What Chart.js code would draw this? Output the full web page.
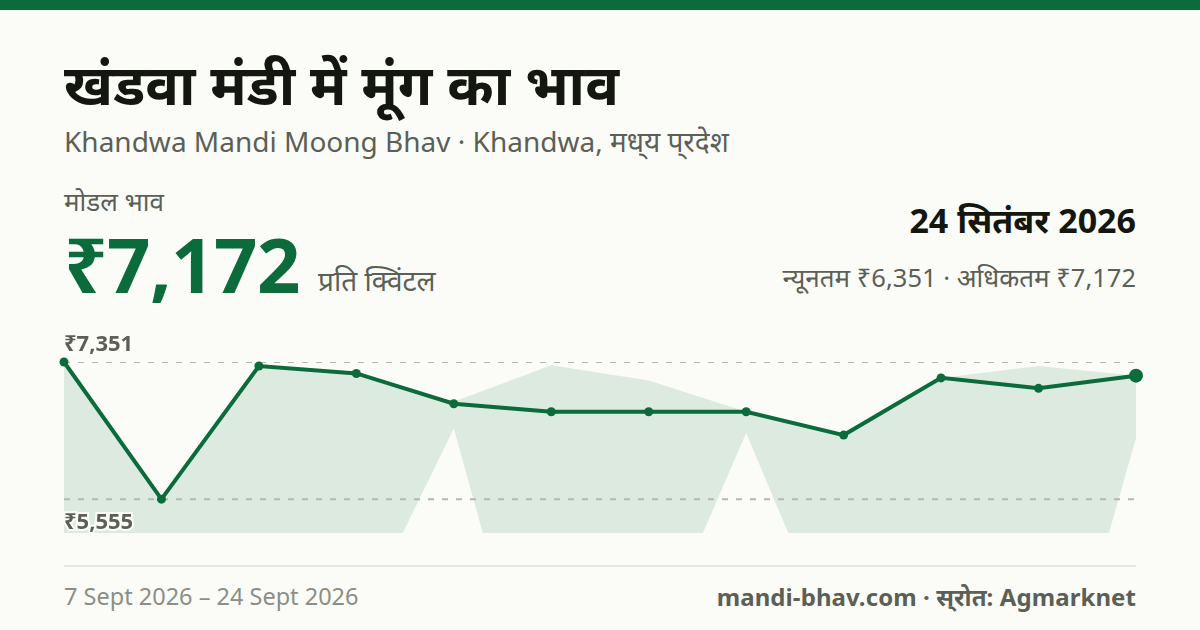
<!DOCTYPE html>
<html lang="hi">
<head>
<meta charset="utf-8">
<title>खंडवा मंडी में मूंग का भाव</title>
<script src="https://cdn.jsdelivr.net/npm/chart.js@4/dist/chart.umd.min.js"></script>
<style>
html, body { margin: 0; padding: 0; }
body { width: 1200px; height: 630px; background: #fbfcf8; position: relative; overflow: hidden; font-family: "Noto Sans", sans-serif; }
#bar { position: absolute; left: 0; top: 0; width: 1200px; height: 10px; background: #0b6b3a; }
.t { position: absolute; white-space: nowrap; line-height: 1; }
#title { left: 64px; top: 55px; font-size: 56px; font-weight: 700; color: #14170f; letter-spacing: 0.1px; }
#sub { left: 64px; top: 127px; font-size: 28px; color: #5c5f56; }
#label { left: 64px; top: 188px; font-size: 26px; color: #5c5f56; }
#price { left: 64px; top: 226px; font-size: 76px; font-weight: 700; color: #0b6b3a; letter-spacing: -0.5px; }
#unit { left: 318px; top: 266px; font-size: 28px; color: #5c5f56; }
#date { right: 64px; top: 203px; font-size: 34px; font-weight: 700; color: #14170f; }
#range { right: 64px; top: 264px; font-size: 25.5px; color: #5c5f56; }
#range span { font-size: 26px; }
#hi { left: 64px; top: 331px; font-size: 22px; font-weight: 700; color: #5c5f56; }
#lo { left: 64px; top: 509px; font-size: 22px; font-weight: 700; color: #5c5f56; paint-order: stroke; -webkit-text-stroke: 4px #fbfcf8; }
#rule { position: absolute; left: 64px; top: 565px; width: 1072px; height: 2px; background: #e4e6e0; }
#from { left: 64px; top: 585px; font-size: 23.5px; color: #8b8e85; }
#src { right: 64px; top: 585px; font-size: 24px; font-weight: 700; color: #5c5f56; letter-spacing: 0.08px; }
#wrap { position: absolute; left: 0; top: 340px; width: 1200px; height: 200px; }
</style>
</head>
<body>
<div id="bar"></div>
<div class="t" id="title">खंडवा मंडी में मूंग का भाव</div>
<div class="t" id="sub">Khandwa Mandi Moong Bhav · Khandwa, मध्&#8204;य प्&#8204;रदेश</div>
<div class="t" id="label">मोडल भाव</div>
<div class="t" id="price">₹7,172</div>
<div class="t" id="unit">प्रति क्विंटल</div>
<div class="t" id="date">24 सितंबर 2026</div>
<div class="t" id="range"><span>न्यूनतम</span> ₹6,351 · <span>अधिकतम</span> ₹7,172</div>
<div id="wrap"><canvas id="chart1" width="1200" height="200"></canvas></div>
<div class="t" id="hi">₹7,351</div>
<div class="t" id="lo">₹5,555</div>
<div id="rule"></div>
<div class="t" id="from">7 Sept 2026 – 24 Sept 2026</div>
<div class="t" id="src">mandi-bhav.com · स्&#8204;रोत: Agmarknet</div>

<script>
var days = ["7 Sept", "8 Sept", "9 Sept", "10 Sept", "11 Sept", "12 Sept", "14 Sept", "15 Sept", "16 Sept", "22 Sept", "23 Sept", "24 Sept"];
var modalPrice = [7351, 5555, 7299, 7201, 6805, 6700, 6700, 6700, 6394, 7143, 7006, 7172];
var maxPrice = [7351, 5555, 7299, 7201, 6830, 7310, 7110, 6700, 6394, 7143, 7299, 7172];
var minPrice = [2000, 2000, 3000, 3870, 6479, 1887, 3479, 6421, 3390, 2000, 1887, 6351];
var highLine = days.map(function() { return 7351; });
var lowLine = days.map(function() { return 5555; });
var axisMin = 5112;
var axisMax = 7351;

var green = "#0b6b3a";
var dash = "#b4b7af";

var ctx = document.getElementById("chart1").getContext("2d");
var chart1 = new Chart(ctx, {
    type: "line",
    data: {
        labels: days,
        datasets: [
            { label: "Modal", data: modalPrice, borderColor: green, backgroundColor: green, borderWidth: 4,
              fill: false, tension: 0, clip: false, order: 0,
              pointRadius: [4.5, 4.5, 4.5, 4.5, 4.5, 4.5, 4.5, 4.5, 4.5, 4.5, 4.5, 7], pointBackgroundColor: green, pointBorderWidth: 0 },
            { label: "High", data: highLine, borderColor: dash, borderWidth: 2, borderDash: [6, 8],
              pointRadius: 0, fill: false, order: 1 },
            { label: "Low", data: lowLine, borderColor: dash, borderWidth: 2, borderDash: [6, 8],
              pointRadius: 0, fill: false, order: 1 },
            { label: "Max", data: maxPrice, borderWidth: 0, pointRadius: 0, tension: 0,
              fill: { target: "+1" }, backgroundColor: "rgba(11,107,58,0.12)", order: 2 },
            { label: "Min", data: minPrice, borderWidth: 0, pointRadius: 0, tension: 0, fill: false, order: 2 }
        ]
    },
    options: {
        responsive: false,
        animation: false,
        layout: { padding: { left: 64, right: 64, top: 22, bottom: 3 } },
        plugins: { legend: { display: false }, tooltip: { enabled: false } },
        scales: {
            x: { display: false, offset: false },
            y: { display: false, min: axisMin, max: axisMax }
        }
    }
});
</script>
</body>
</html>
